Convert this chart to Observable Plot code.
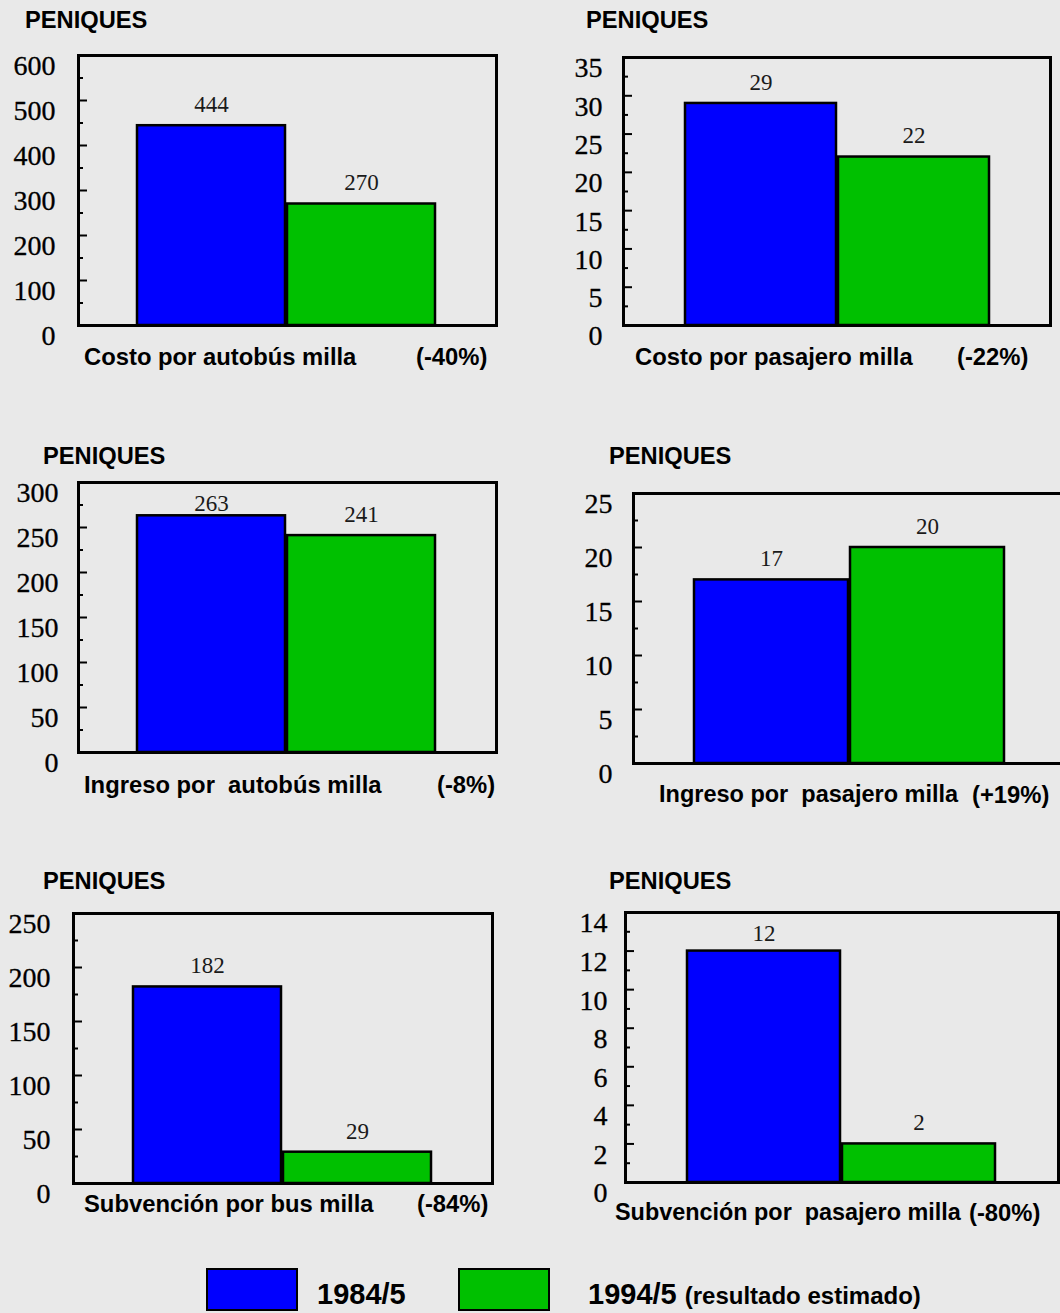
<!DOCTYPE html>
<html><head><meta charset="utf-8">
<script src="https://cdn.jsdelivr.net/npm/d3@7"></script>
<script src="https://cdn.jsdelivr.net/npm/@observablehq/plot@0.6"></script>
<style>
html,body{margin:0;padding:0;background:#e9e9e9;}
#page{position:relative;width:1060px;height:1313px;overflow:hidden;background:#e9e9e9;font-family:"Liberation Sans",Arial,sans-serif;}
.lbl{position:absolute;font-weight:bold;white-space:pre;line-height:1;color:#000;}
.panel{position:absolute;}
.sw{position:absolute;box-sizing:border-box;border:2px solid #000;}
</style></head><body><div id="page"></div>
<script>
// ---- data ----
const years = ["1984/5", "1994/5"];
const yearColors = ["#0000ff", "#00c000"];
const titles = ["Costo por autobús milla", "Costo por pasajero milla", "Ingreso por  autobús milla", "Ingreso por  pasajero milla", "Subvención por bus milla", "Subvención por  pasajero milla"];
const changes = ["(-40%)", "(-22%)", "(-8%)", "(+19%)", "(-84%)", "(-80%)"];
const values1984 = [444, 29, 263, 17, 182, 12];
const values1994 = [270, 22, 241, 20, 29, 2];
const yMax = [600, 35, 300, 25, 250, 14];
const tickStep = [100, 5, 50, 5, 50, 2];
const unitLabel = "PENIQUES";
const legendNote = "(resultado estimado)";

// ---- layout (pixel positions only) ----
const layout = [
  {fl:78,  fr:496,  ft:55,  fb:325,  bl:136, br:436,  col:0,   tl:23, title:[25,21],   xl:[84,357],   pct:[416,357],  fs:23.8},
  {fl:623, fr:1050, ft:57,  fb:325,  bl:683, br:990,  col:530, tl:21, title:[586,21],  xl:[635,357],  pct:[957,357],  fs:23.8},
  {fl:78,  fr:496,  ft:482, fb:752,  bl:136, br:436,  col:0,   tl:20, title:[43,457],  xl:[84,785],   pct:[437,785],  fs:23.8},
  {fl:633, fr:1062, ft:493, fb:763,  bl:693, br:1005, col:530, tl:21, title:[609,457], xl:[659,795],  pct:[972,795],  fs:23.5},
  {fl:73,  fr:492,  ft:913, fb:1183, bl:132, br:432,  col:0,   tl:23, title:[43,882],  xl:[84,1204],  pct:[417,1204], fs:23.8},
  {fl:625, fr:1058, ft:912, fb:1182, bl:686, br:996,  col:530, tl:18, title:[609,882], xl:[615,1213], pct:[969,1213], fs:23.4}
];

const page = document.getElementById("page");
function addLabel(text, x, cy, fs, extra) {
  const d = document.createElement("div");
  d.className = "lbl";
  d.textContent = text;
  d.style.left = x + "px";
  d.style.top = (cy - fs / 2) + "px";
  d.style.fontSize = fs + "px";
  if (extra) Object.assign(d.style, extra);
  page.appendChild(d);
  return d;
}

const serif = "'Liberation Serif', 'Times New Roman', Times, serif";
layout.forEach((L, i) => {
  const W = 540, pad = 30;
  const H = (L.fb - L.ft) + 2 * pad;
  const plotH = L.fb - L.ft;
  const k = yMax[i] / plotH;
  const data = years.map((yr, j) => ({year: yr, value: j ? values1994[i] : values1984[i]}));
  const ticks = d3.range(0, yMax[i] + 1e-9, tickStep[i]).map(v => ({v, label: String(v)}));
  const minor = d3.range(tickStep[i] / 2, yMax[i], tickStep[i]);
  const fw = L.fr - L.fl;
  const chart = Plot.plot({
    width: W, height: H,
    marginLeft: L.fl - L.col, marginRight: W - (L.fr - L.col), marginTop: pad, marginBottom: pad,
    style: {background: "transparent", overflow: "visible", fontFamily: serif},
    x: {domain: years, padding: 0, insetLeft: L.bl - L.fl, insetRight: L.fr - L.br, axis: null},
    y: {domain: [0, yMax[i]], axis: null},
    color: {domain: years, range: yearColors},
    marks: [
      Plot.barY(data, {x: "year", y: "value", fill: "year", stroke: "#000", strokeWidth: 2.5, insetLeft: 1, insetRight: 1}),
      Plot.text(data, {x: "year", y: d => Math.min(d.value + 21 * k, yMax[i] - 21 * k), text: d => String(d.value), fontSize: 23, fontFamily: serif, fill: "#1a1a1a"}),
      Plot.ruleY(ticks, {y: "v", insetRight: fw - 9, stroke: "#000", strokeWidth: 2}),
      Plot.ruleY(minor, {y: d => d, insetRight: fw - 5, stroke: "#000", strokeWidth: 2}),
      Plot.frame({stroke: "#000", strokeWidth: 3}),
      Plot.text(ticks, {y: "v", frameAnchor: "left", textAnchor: "end", dx: -L.tl, dy: 11, text: "label", fontSize: 28, fontFamily: serif, fill: "#000", stroke: "#000", strokeWidth: 0.3})
    ]
  });
  chart.classList.add("panel");
  chart.style.left = L.col + "px";
  chart.style.top = (L.ft - pad) + "px";
  chart.querySelectorAll("text").forEach(t => t.style.fontFamily = serif);
  page.appendChild(chart);

  addLabel(unitLabel, L.title[0], L.title[1], 23.7);
  addLabel(titles[i], L.xl[0], L.xl[1], L.fs);
  addLabel(changes[i], L.pct[0], L.pct[1], 23.8);
});

// legend
const swX = [206, 458];
years.forEach((yr, j) => {
  const s = document.createElement("div");
  s.className = "sw";
  s.style.left = swX[j] + "px";
  s.style.top = "1268px";
  s.style.width = "92px";
  s.style.height = "43px";
  s.style.background = yearColors[j];
  page.appendChild(s);
});
addLabel(years[0], 317, 1294, 29);
const l2 = addLabel(years[1] + " ", 588, 1294, 29);
const note = document.createElement("span");
note.textContent = legendNote;
note.style.fontSize = "24px";
l2.appendChild(note);
</script>
</body></html>
